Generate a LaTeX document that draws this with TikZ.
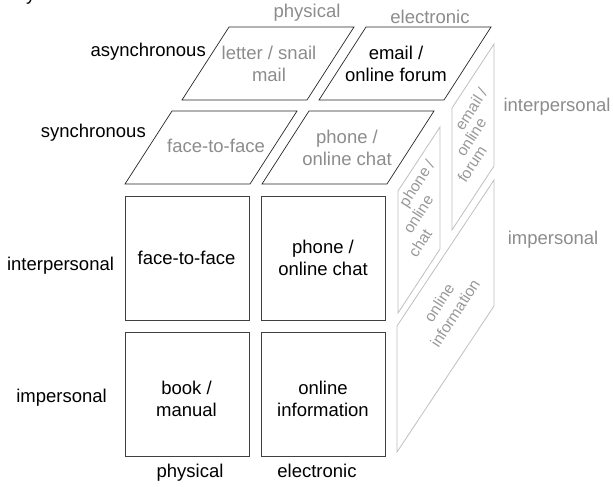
\documentclass[tikz,border=0pt]{standalone}
\usepackage{fontspec}
\setmainfont{Liberation Sans}
\usepackage{tikz}

\begin{document}
\begin{tikzpicture} [x=1pt,y=-1pt,
    front/.style={draw=black!75,line width=0.9pt},
    topface/.style={draw=black!85,line width=0.7pt},
    sideface/.style={draw=black!25,line width=0.8pt},
    txt/.style={align=center,inner sep=0pt,font=\fontsize{18.5}{22}\selectfont},
    grey/.style={txt,text=black!45},
    sidetxt/.style={inner sep=0pt,rotate=57,text=black!40,align=center,
      font=\fontsize{15.6}{19}\selectfont}]
    \useasboundingbox (0,0) rectangle (613,487);

    % front face
    \foreach \x in {125,261}
      \foreach \y in {196,332}
        \draw[front] (\x,\y) rectangle ++(124,124);

    % top face
    \foreach \k in {0,1}
      \foreach \c in {0,1}
        \draw[topface] (125+137*\c+57*\k,184-84*\k) -- ++(125,0) -- ++(47,-73)
          -- ++(-125,0) -- cycle;

    % right face
    \draw[sideface] (398,313) -- ++(0,-122) -- ++(42,-64) -- ++(0,122) -- cycle;
    \draw[sideface] (452,230) -- ++(0,-122) -- ++(42,-64) -- ++(0,122) -- cycle;
    \draw[sideface] (397,452) -- ++(0,-126) -- ++(97,-146) -- ++(0,126) -- cycle;

    \node[txt,anchor=base west] (cut) at (26,1) {y};

    \node[txt] (ftf) at (186.5,258) {face-to-face};
    \node[txt] (chat) at (323,258) {phone /\\online chat};
    \node[txt] (book) at (186.5,399) {book /\\manual};
    \node[txt] (info) at (323,399) {online\\information};

    \node[grey] (letter) at (269,64) {letter / snail\\mail};
    \node[txt] (email) at (396,64) {email /\\online forum};
    \node[grey] (ftftop) at (216,146) {face-to-face};
    \node[grey] (chattop) at (347,148) {phone /\\online chat};

    \node[sidetxt] (chat1) at (418,184) {phone /};
    \node[sidetxt] (chat2) at (418,214) {online};
    \node[sidetxt] (chat3) at (420,243) {chat};
    \node[sidetxt] (email1) at (471,109) {email /};
    \node[sidetxt] (email2) at (471,137) {online};
    \node[sidetxt] (email3) at (472,164) {forum};
    \node[sidetxt] (infoside) at (447,308) {online\\information};

    \node[txt,anchor=east] (async) at (206,52) {asynchronous};
    \node[txt,anchor=east] (sync) at (146,133) {synchronous};
    \node[txt] (inter) at (60.5,266) {interpersonal};
    \node[txt] (imper) at (61.5,398) {impersonal};
    \node[txt] (phys) at (190,473) {physical};
    \node[txt] (elec) at (317,471) {electronic};

    \node[grey] (physb) at (307,13) {physical};
    \node[grey] (elecb) at (430,17) {electronic};
    \node[grey] (interb) at (557,107) {interpersonal};
    \node[grey] (imperb) at (553,240) {impersonal};
\end{tikzpicture}
\end{document}
